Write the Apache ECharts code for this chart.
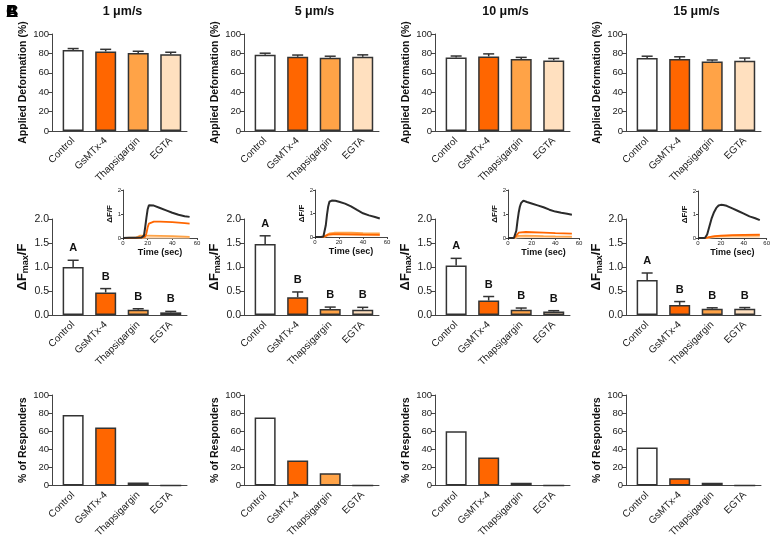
<!DOCTYPE html>
<html><head><meta charset="utf-8">
<script src="https://cdn.jsdelivr.net/npm/echarts@6/dist/echarts.min.js"></script>
<style>html,body{margin:0;padding:0;background:#fff}#c{width:773px;height:540px}</style>
</head><body><div id="c"></div>
<script>
// ---------- data ----------
const categories = ['Control', 'GsMTx-4', 'Thapsigargin', 'EGTA'];
const speeds = ['1 μm/s', '5 μm/s', '10 μm/s', '15 μm/s'];

// Applied Deformation (%) mean and SEM, per speed
const deform1 = [83.5, 82, 80.5, 79];
const deform5 = [78.5, 76.5, 75.5, 76.5];
const deform10 = [75.8, 76.9, 74.3, 72.8];
const deform15 = [75.3, 74.2, 71.7, 72.4];
const deformErr1 = [1.5, 2.2, 1.7, 2.2];
const deformErr5 = [1.7, 1.8, 1.6, 2.0];
const deformErr10 = [1.5, 2.6, 1.6, 2.0];
const deformErr15 = [1.8, 2.3, 1.5, 2.8];

// ΔFmax/F mean and SEM, per speed
const dF1 = [1.00, 0.47, 0.11, 0.055];
const dF5 = [1.48, 0.37, 0.125, 0.11];
const dF10 = [1.03, 0.30, 0.11, 0.075];
const dF15 = [0.73, 0.21, 0.13, 0.13];
const dFErr1 = [0.14, 0.08, 0.02, 0.02];
const dFErr5 = [0.17, 0.11, 0.04, 0.05];
const dFErr10 = [0.15, 0.085, 0.035, 0.015];
const dFErr15 = [0.145, 0.07, 0.02, 0.025];
const dFLetters = ['A', 'B', 'B', 'B'];

// % of Responders, per speed
const resp1 = [78, 64, 3.4, 0];
const resp5 = [75, 27.5, 13.5, 0];
const resp10 = [60, 31, 3, 0];
const resp15 = [42, 8, 3, 0];

// Inset traces ΔF/F vs time (sec): [time, value]
const ctrl1 = [[0,0],[5,0.01],[10,0.01],[15,0.02],[17,0.1],[18,0.45],[19,0.85],[20,1.2],[21,1.36],[22,1.38],[25,1.35],[30,1.25],[35,1.15],[40,1.05],[45,0.97],[50,0.91],[54,0.88]];
const gsm1 = [[0,0],[10,0],[15,0.02],[18,0.05],[19,0.2],[20,0.45],[21,0.6],[22,0.66],[25,0.68],[30,0.68],[35,0.67],[40,0.66],[45,0.64],[50,0.62],[54,0.6]];
const tha1 = [[0,0],[10,0.01],[12,0.05],[14,0.1],[20,0.1],[30,0.09],[40,0.08],[50,0.06],[54,0.05]];
const egta1 = [[0,0],[10,0],[20,0.02],[30,0.02],[40,0.02],[54,0.02]];

const ctrl5 = [[0,0],[5,0],[7,0.02],[8,0.1],[9,0.5],[10,0.95],[11,1.3],[12,1.5],[14,1.55],[17,1.54],[20,1.5],[25,1.42],[30,1.3],[35,1.15],[40,1.01],[45,0.92],[50,0.85],[54,0.79]];
const gsm5 = [[0,0],[7,0],[9,0.05],[11,0.1],[15,0.12],[20,0.12],[30,0.11],[40,0.1],[54,0.09]];
const tha5 = [[0,0],[7,0],[9,0.06],[12,0.15],[16,0.18],[20,0.19],[30,0.18],[40,0.16],[54,0.15]];
const egta5 = [[0,0],[7,0],[10,0.05],[15,0.08],[30,0.08],[54,0.07]];

const ctrl10 = [[0,0],[5,0],[6,0.05],[7,0.3],[8,0.7],[9,1.05],[10,1.3],[11,1.45],[13,1.56],[16,1.5],[20,1.44],[25,1.36],[30,1.28],[35,1.18],[40,1.1],[45,1.05],[50,1.01],[54,0.97]];
const gsm10 = [[0,0],[5,0],[7,0.1],[9,0.22],[10,0.25],[15,0.25],[20,0.24],[30,0.22],[40,0.2],[54,0.18]];
const tha10 = [[0,0],[5,0],[7,0.05],[9,0.09],[15,0.1],[30,0.08],[40,0.07],[54,0.06]];
const egta10 = [[0,0],[6,0],[8,0.03],[15,0.04],[30,0.04],[54,0.04]];

const ctrl15 = [[0,0],[6,0],[7,0.03],[8,0.15],[10,0.5],[12,0.85],[14,1.1],[16,1.28],[18,1.38],[20,1.41],[22,1.4],[25,1.37],[30,1.26],[35,1.15],[40,1.04],[45,0.92],[50,0.84],[54,0.76]];
const gsm15 = [[0,0],[7,0],[9,0.03],[12,0.06],[15,0.08],[20,0.1],[30,0.12],[40,0.13],[54,0.14]];
const tha15 = [[0,0],[7,0],[10,0.04],[15,0.07],[20,0.08],[30,0.1],[40,0.1],[54,0.11]];
const egta15 = [[0,0],[8,0],[12,0.03],[20,0.05],[30,0.05],[54,0.05]];

const yTicksDeform = [0, 100, 20];
const yTicksDF = [0, 2, 0.5];
const yTicksResp = [0, 100, 20];
const insetYTicks = [0, 2, 1];
const insetXTicks = [0, 60, 20];

// ---------- layout / style ----------
const FONT = '"Liberation Sans", Arial, Helvetica, sans-serif';
const barColors = ['#ffffff', '#ff6600', '#ffa347', '#ffe0bf'];
const traceColors = ['#2b2b2b', '#ff6600', '#ffa347', '#ffd8b0'];
const colX = [52, 244, 435, 626];
const PLOT_W = 135;
const rowsLayout = [{ top: 34, height: 97 }, { top: 219, height: 96 }, { top: 395, height: 97 }];
const insetLayout = [
  { left: 123, top: 190, width: 74, height: 48 },
  { left: 315, top: 190, width: 72, height: 47 },
  { left: 508, top: 190, width: 71, height: 48 },
  { left: 698, top: 191, width: 71, height: 47 }
];

const deform = [deform1, deform5, deform10, deform15];
const deformErr = [deformErr1, deformErr5, deformErr10, deformErr15];
const dF = [dF1, dF5, dF10, dF15];
const dFErr = [dFErr1, dFErr5, dFErr10, dFErr15];
const resp = [resp1, resp5, resp10, resp15];
const traces = [[ctrl1, gsm1, tha1, egta1], [ctrl5, gsm5, tha5, egta5], [ctrl10, gsm10, tha10, egta10], [ctrl15, gsm15, tha15, egta15]];

const grid = [], xAxis = [], yAxis = [], series = [], title = [];
const AX = '#444';

function makeErrSeries(gi, vals, errs, letters) {
  return {
    type: 'custom', xAxisIndex: gi, yAxisIndex: gi, z: 5,
    data: vals.map((v, i) => [i, v, errs[i]]),
    encode: { x: 0, y: 1 },
    renderItem: (params, api) => {
      const x = api.value(0), v = api.value(1), e = api.value(2);
      const p0 = api.coord([x, v]), p1 = api.coord([x, v + e]);
      const ch = [
        { type: 'line', shape: { x1: p0[0], y1: p0[1], x2: p1[0], y2: p1[1] }, style: { stroke: '#333', lineWidth: 1.5 } },
        { type: 'line', shape: { x1: p1[0] - 5.5, y1: p1[1], x2: p1[0] + 5.5, y2: p1[1] }, style: { stroke: '#333', lineWidth: 1.5 } }
      ];
      if (letters) {
        ch.push({ type: 'text', style: { text: letters[params.dataIndex], x: p1[0], y: p1[1] - 12, align: 'center', verticalAlign: 'middle', fontSize: 11, fontWeight: 'bold', fontFamily: FONT, fill: '#111' } });
      }
      return { type: 'group', children: ch };
    }
  };
}

for (let c = 0; c < 4; c++) {
  title.push({ text: speeds[c], left: colX[c] + PLOT_W / 2 - 2, top: 0, textAlign: 'center',
    textStyle: { fontSize: 12.5, fontWeight: 'bold', fontFamily: FONT, color: '#111' } });
  for (let r = 0; r < 3; r++) {
    const gi = grid.length;
    grid.push({ left: colX[c], top: rowsLayout[r].top, width: PLOT_W, height: rowsLayout[r].height, containLabel: false });
    xAxis.push({
      gridIndex: gi, type: 'value', min: -0.65, max: 3.5,
      axisLine: { show: true, onZero: false, lineStyle: { color: AX, width: 1 } },
      axisTick: { show: false }, splitLine: { show: false },
      axisLabel: { customValues: [0, 1, 2, 3], formatter: v => categories[Math.round(v)], rotate: 45, fontSize: 10, color: '#222', margin: 8, fontFamily: FONT }
    });
    const yt = r === 0 ? yTicksDeform : (r === 1 ? yTicksDF : yTicksResp);
    const names = ['Applied Deformation (%)', 'ΔF{sub|max}/F', '% of Responders'];
    yAxis.push({
      gridIndex: gi, type: 'value', min: yt[0], max: yt[1], interval: yt[2],
      axisLine: { show: true, onZero: false, lineStyle: { color: AX, width: 1 } },
      axisTick: { show: true, length: 4, lineStyle: { color: AX, width: 1 } },
      splitLine: { show: false },
      axisLabel: { fontSize: r === 1 ? 10.5 : 9.5, color: '#222', margin: 3, fontFamily: FONT,
        formatter: r === 1 ? (v => v.toFixed(1)) : (v => String(v)) },
      name: names[r], nameLocation: 'middle', nameGap: r === 1 ? 20 : 23,
      nameTextStyle: { fontSize: r === 1 ? 13 : 10.5, fontWeight: 'bold', color: '#111', fontFamily: FONT,
        rich: { sub: { fontSize: 9, fontWeight: 'bold', fontFamily: FONT, color: '#111', padding: [7, 0, 0, 0] } } }
    });
    const vals = r === 0 ? deform[c] : (r === 1 ? dF[c] : resp[c]);
    series.push({
      type: 'bar', xAxisIndex: gi, yAxisIndex: gi, barWidth: 21,
      data: vals.map((v, i) => ({ value: [i, v], itemStyle: { color: barColors[i] } })),
      itemStyle: { borderColor: '#333', borderWidth: 1.5 }, silent: true
    });
    if (r === 0) series.push(makeErrSeries(gi, vals, deformErr[c], null));
    if (r === 1) series.push(makeErrSeries(gi, vals, dFErr[c], dFLetters));
  }
  // inset
  const gi = grid.length;
  grid.push(Object.assign({ containLabel: false }, insetLayout[c]));
  xAxis.push({
    gridIndex: gi, type: 'value', min: insetXTicks[0], max: insetXTicks[1], interval: insetXTicks[2],
    axisLine: { show: true, onZero: false, lineStyle: { color: AX, width: 1 } },
    axisTick: { show: true, length: 2, lineStyle: { color: AX } }, splitLine: { show: false },
    axisLabel: { fontSize: 6, color: '#222', margin: 2, fontFamily: FONT },
    name: 'Time (sec)', nameLocation: 'middle', nameGap: 10,
    nameTextStyle: { fontSize: 9, fontWeight: 'bold', color: '#111', fontFamily: FONT }
  });
  yAxis.push({
    gridIndex: gi, type: 'value', min: insetYTicks[0], max: insetYTicks[1], interval: insetYTicks[2],
    axisLine: { show: true, onZero: false, lineStyle: { color: AX, width: 1 } },
    axisTick: { show: true, length: 2, lineStyle: { color: AX } }, splitLine: { show: false },
    axisLabel: { fontSize: 6, color: '#222', margin: 2, fontFamily: FONT },
    name: 'ΔF/F', nameLocation: 'middle', nameGap: 5,
    nameTextStyle: { fontSize: 8, fontWeight: 'bold', color: '#111', fontFamily: FONT }
  });
  for (let k = 3; k >= 0; k--) {
    series.push({
      type: 'line', xAxisIndex: gi, yAxisIndex: gi, data: traces[c][k], showSymbol: false, silent: true,
      lineStyle: { color: traceColors[k], width: k === 0 ? 2 : 1.8 }, z: 3 + (k === 0 ? 1 : 0)
    });
  }
}

['A', 'B', 'C'].forEach(t => title.push({ text: t, left: 1, top: -1, textStyle: { fontSize: 17, fontWeight: 'bold', color: '#000', fontFamily: FONT } }));

const chart = echarts.init(document.getElementById('c'), null, { renderer: 'canvas' });
chart.setOption({ animation: false, backgroundColor: '#fff', title, grid, xAxis, yAxis, series });
</script></body></html>
